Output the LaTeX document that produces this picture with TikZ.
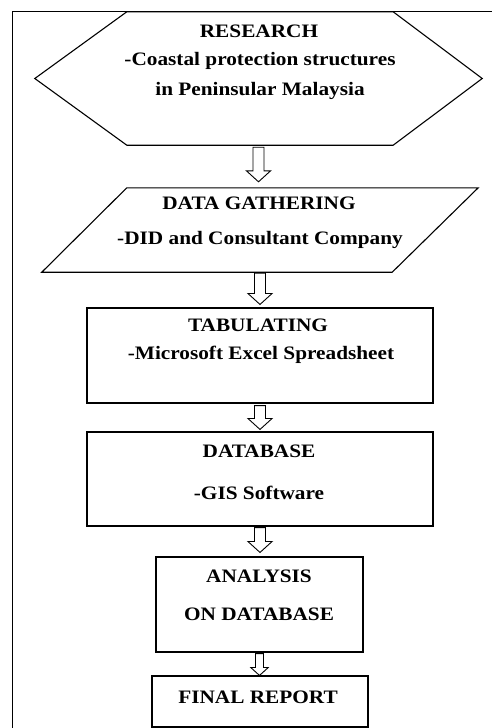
\documentclass[tikz,border=0pt]{standalone}
\usepackage{fontspec}
\setmainfont{Liberation Serif}
\newfontfamily\flowbold[FakeStretch=1.12]{Liberation Serif Bold}
\usetikzlibrary{positioning,calc}
\tikzset{
  frameln/.style={line width=0.9pt},
  boxln/.style={line width=1.1pt, line join=miter},
  stepbox/.style={draw, boxln, rectangle, minimum width=346pt, minimum height=95pt, inner sep=0pt},
  shapebox/.style={rectangle, inner sep=0pt},
  steptxt/.style={font=\fontsize{19}{19}\flowbold, inner sep=0pt},
  arrowln/.style={line width=0.9pt, fill=white, line join=miter},
}
% hollow block arrow between two named nodes
\newcommand{\flowarrow}[6]{%
  \draw[arrowln] let \p1=($(#1.south)+(0,-#3)$), \p2=($(#2.north)+(0,#4)$) in
    (\x1-#5,\y1) -- (\x1+#5,\y1) -- (\x1+#5,\y2+#6) -- (\x1+2.2*#5,\y2+#6)
    -- (\x1,\y2) -- (\x1-2.2*#5,\y2+#6) -- (\x1-#5,\y2+#6) -- cycle;
}

\begin{document}
\begin{tikzpicture}[x=1pt, y=-1pt]
    \useasboundingbox (0,0) rectangle (492,728);
    % frame (only left and top edges are in view)
    \draw[frameln] (12,728) -- (12,11) -- (492,11);

    % steps
    \node[shapebox, minimum width=447pt, minimum height=133pt] (research) at (258.5,78.5) {};
    \draw[boxln] (research.west) -- ($(research.north west)+(92,0)$)
      -- ($(research.north east)+(-89,0)$) -- (research.east)
      -- ($(research.south east)+(-89,0)$) -- ($(research.south west)+(92,0)$) -- cycle;
    \node[shapebox, minimum width=436pt, minimum height=84pt] (gather) at (260,230) {};
    \draw[boxln] (gather.south west) -- ($(gather.north west)+(85,0)$)
      -- (gather.north east) -- ($(gather.south east)+(-86,0)$) -- cycle;
    \node[stepbox] (tabulate) at (260,355.5) {};
    \node[stepbox, minimum height=94pt] (database) at (260,479) {};
    \node[stepbox, minimum width=207pt] (analysis) at (259.5,604.5) {};
    \node[stepbox, minimum width=216pt, minimum height=51pt] (report) at (260,701.5) {};

    % texts
    \node[steptxt] (research-t) at (259,31) {RESEARCH};
    \node[steptxt] (research-a) at (260,61) {-Coastal protection structures};
    \node[steptxt] (research-b) at (260,91) {in Peninsular Malaysia};
    \node[steptxt] (gather-t) at (259,203) {DATA GATHERING};
    \node[steptxt] (gather-a) at (260,240) {-DID and Consultant Company};
    \node[steptxt] (tabulate-t) at (258,325) {TABULATING};
    \node[steptxt] (tabulate-a) at (261,355) {-Microsoft Excel Spreadsheet};
    \node[steptxt] (database-t) at (259,451) {DATABASE};
    \node[steptxt] (database-a) at (259,493) {-GIS Software};
    \node[steptxt] (analysis-t) at (259,576) {ANALYSIS};
    \node[steptxt] (analysis-b) at (259,614) {ON DATABASE};
    \node[steptxt] (report-t) at (258,697) {FINAL REPORT};

    % arrows
    \flowarrow{research}{gather}{2pt}{6pt}{5.5pt}{11pt}
    \flowarrow{gather}{tabulate}{1pt}{3pt}{5.5pt}{11pt}
    \flowarrow{tabulate}{database}{2pt}{2pt}{5.5pt}{11pt}
    \flowarrow{database}{analysis}{1pt}{4pt}{5.5pt}{11pt}
    \flowarrow{analysis}{report}{1pt}{0pt}{4pt}{8pt}
\end{tikzpicture}
\end{document}
